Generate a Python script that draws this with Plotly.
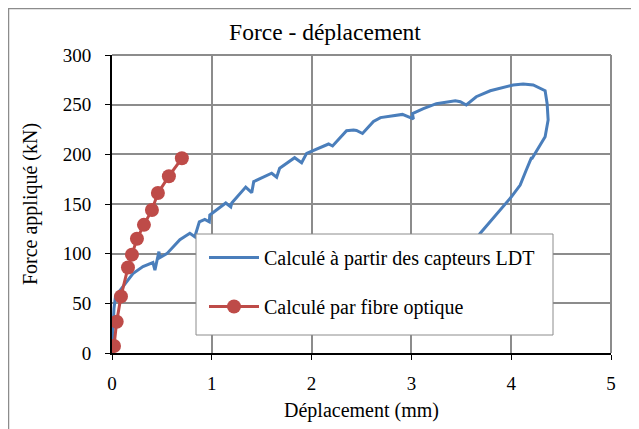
import plotly.graph_objects as go

# Blue curve: computed from LDT sensors
ldt_x = [0.0, 0.01, 0.02, 0.035, 0.11, 0.21, 0.31, 0.41, 0.43, 0.47, 0.48, 0.55, 0.68, 0.78, 0.83,
         0.875, 0.93, 0.975, 0.98, 1.14, 1.19, 1.20, 1.34, 1.40, 1.42, 1.60, 1.65, 1.68,
         1.83, 1.90, 1.95, 2.17, 2.21, 2.35, 2.42, 2.45, 2.51, 2.62, 2.69, 2.79, 2.91,
         3.02, 3.01, 3.12, 3.25, 3.44, 3.49, 3.55, 3.65, 3.79, 4.02, 4.12, 4.22, 4.34,
         4.36, 4.37, 4.34, 4.21, 4.20, 4.15, 4.09, 4.00, 3.89, 3.77, 3.69, 3.60]
ldt_y = [0, 25, 45, 57, 67, 80, 87, 91, 83.5, 102, 96, 100, 114, 120.5, 117,
         132, 134.5, 132, 139, 151, 147, 151, 167, 161.4, 172.5, 181, 177, 186,
         196.6, 191.6, 201, 210.4, 208.4, 223.8, 224.5, 224, 221, 233, 237, 238.6, 240.2,
         235.6, 241, 246, 251, 254, 253, 249.7, 258, 264, 269.8, 270.8, 269.8, 264,
         251, 234.6, 217.8, 196, 196, 184, 169, 157, 144, 130.6, 120.5, 108]

# Red curve: computed by optical fibre
fo_x = [0.02, 0.047, 0.09, 0.16, 0.20, 0.25, 0.32, 0.40, 0.46, 0.57, 0.70]
fo_y = [7, 31.5, 57, 86, 99, 115, 129, 144, 161, 178, 196]

x_ticks = [0, 1, 2, 3, 4, 5]
y_ticks = [0, 50, 100, 150, 200, 250, 300]

FONT = "Liberation Serif"
W, H = 631, 421
L, T, R, B = 104, 47, 28, 76
PW, PH = W - L - R, H - T - B

def px(x):  # figure px -> paper x
    return (x - L) / PW

def py(y):  # figure px -> paper y
    return (H - B - y) / PH

fig = go.Figure()
fig.add_trace(go.Scatter(
    x=ldt_x, y=ldt_y, mode="lines",
    name="Calculé à partir des capteurs LDT",
    line=dict(color="#4A7EBB", width=3),
    legendgroup="a",
))
fig.add_trace(go.Scatter(
    x=fo_x, y=fo_y, mode="lines+markers",
    name="Calculé par fibre optique",
    line=dict(color="#BE4B48", width=3),
    marker=dict(color="#BE4B48", size=14),
    legendgroup="b",
))

grid = "#8C8C8C"
fig.update_layout(
    width=W, height=H,
    margin=dict(l=L, r=R, t=T, b=B),
    paper_bgcolor="white", plot_bgcolor="white",
    font=dict(family=FONT, color="black", size=19),
    title=dict(text="Force - déplacement", x=(325 - 8) / W, xref="container", xanchor="center",
               y=1 - 24 / H, yanchor="middle", font=dict(size=23.5, family=FONT)),
    showlegend=True,
    legend=dict(
        x=px(188 + 8), y=py(226 + 4), xanchor="left", yanchor="top",
        bgcolor="rgba(0,0,0,0)", borderwidth=0,
        font=dict(size=20, family=FONT), tracegroupgap=20,
        traceorder="grouped", itemwidth=50,
    ),
    xaxis=dict(
        range=[0, 5], tickvals=x_ticks, showgrid=True, gridcolor=grid, gridwidth=2,
        zeroline=False, showline=True, linecolor="black", linewidth=2,
        ticks="outside", ticklen=5, tickcolor="black", ticklabelstandoff=7,
        title=dict(text="Déplacement (mm)", font=dict(size=20), standoff=10),
        tickfont=dict(size=19),
    ),
    yaxis=dict(
        range=[0, 300], tickvals=y_ticks, showgrid=True, gridcolor=grid, gridwidth=2,
        zeroline=False, showline=True, linecolor="black", linewidth=2,
        ticks="outside", ticklen=5, tickcolor="black", ticklabelstandoff=10,
        title=dict(text="Force appliqué (kN)", font=dict(size=20), standoff=20),
        tickfont=dict(size=19),
    ),
)

# outer chart border
fig.add_shape(type="rect", xref="paper", yref="paper",
              x0=px(0.5), x1=px(W + 20), y0=py(H + 20), y1=py(0.5),
              line=dict(color="#8C8C8C", width=1.5), fillcolor="rgba(0,0,0,0)", layer="below")
# plot area top/right border
fig.add_shape(type="line", xref="paper", yref="paper", x0=0, x1=1, y0=1, y1=1,
              line=dict(color=grid, width=2), layer="below")
fig.add_shape(type="line", xref="paper", yref="paper", x0=1, x1=1, y0=0, y1=1,
              line=dict(color=grid, width=2), layer="below")
# legend box
fig.add_shape(type="rect", xref="paper", yref="paper",
              x0=px(188), x1=px(545), y0=py(327), y1=py(226),
              line=dict(color="#8C8C8C", width=1), fillcolor="white", layer="above")

fig.write_html("out.html")
